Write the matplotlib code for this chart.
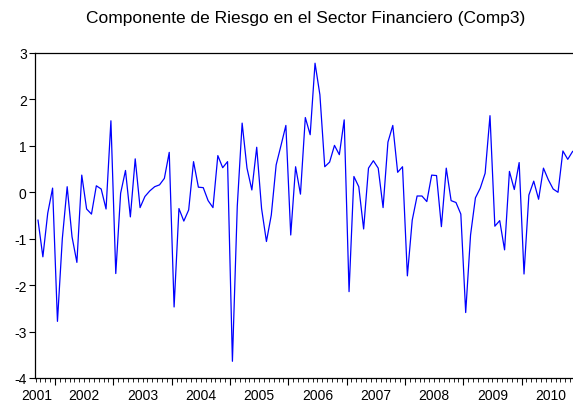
import numpy as np
import matplotlib.pyplot as plt
from matplotlib.transforms import blended_transform_factory

plt.rcParams['font.family'] = ['Liberation Sans', 'DejaVu Sans']
plt.rcParams['axes.unicode_minus'] = False

# monthly series, first observation 2001M09
start_year, start_month = 2001, 9
comp3 = [
    -0.60, -1.39, -0.45, 0.09,                                                      # 2001
    -2.78, -1.00, 0.12, -0.96, -1.51, 0.37, -0.36, -0.47, 0.14, 0.07, -0.36, 1.54,  # 2002
    -1.75, -0.02, 0.47, -0.53, 0.72, -0.33, -0.09, 0.03, 0.12, 0.16, 0.30, 0.86,    # 2003
    -2.47, -0.35, -0.62, -0.38, 0.66, 0.11, 0.10, -0.18, -0.33, 0.79, 0.53, 0.66,   # 2004
    -3.64, -0.30, 1.49, 0.52, 0.05, 0.97, -0.35, -1.06, -0.49, 0.59, 1.01, 1.44,    # 2005
    -0.92, 0.55, -0.04, 1.61, 1.24, 2.78, 2.10, 0.55, 0.65, 1.01, 0.81, 1.56,       # 2006
    -2.14, 0.34, 0.12, -0.79, 0.52, 0.68, 0.52, -0.33, 1.08, 1.44, 0.43, 0.55,      # 2007
    -1.80, -0.60, -0.08, -0.08, -0.20, 0.37, 0.36, -0.74, 0.52, -0.18, -0.22, -0.47, # 2008
    -2.59, -0.92, -0.12, 0.09, 0.41, 1.65, -0.73, -0.61, -1.24, 0.45, 0.06, 0.64,   # 2009
    -1.76, -0.06, 0.24, -0.15, 0.52, 0.27, 0.07, 0.00, 0.89, 0.71, 0.88,            # 2010
]
years = [2001, 2002, 2003, 2004, 2005, 2006, 2007, 2008, 2009, 2010]
yticks = [-4, -3, -2, -1, 0, 1, 2, 3]

n = len(comp3)
t = np.arange(n)
month = (start_month - 1 + t) % 12
jan_idx = t[month == 0]

fig = plt.figure(figsize=(5.73, 4.02), dpi=100)
ax = fig.add_axes([35 / 573, 23 / 402, 541 / 573, 325 / 402])
ax.plot(t, comp3, color='#0000ff', lw=0.9)

x0 = -0.62
ax.set_xlim(x0, x0 + 541 / 4.86)
ax.set_ylim(-4, 3)

ax.set_yticks(yticks)
ax.set_yticklabels([str(v) for v in yticks])
ax.tick_params(axis='y', direction='out', length=4, width=0.8, pad=2,
               labelsize=10, colors='black')

# month boundaries as minor ticks, year boundaries as major ticks
ax.set_xticks(jan_idx - 0.5)
ax.set_xticklabels([])
ax.set_xticks(np.arange(n + 1) - 0.5, minor=True)
ax.tick_params(axis='x', which='major', direction='out', length=5, width=0.8)
ax.tick_params(axis='x', which='minor', direction='out', length=3, width=0.6)

trans = blended_transform_factory(ax.transData, ax.transAxes)
for k, yr in enumerate(years):
    first = (yr - start_year) * 12 - (start_month - 1)
    mid = first - 0.5 + 6
    if mid < x0:
        mid = x0 + 0.3
    ax.text(mid, -0.03, str(yr), transform=trans, ha='center', va='top',
            fontsize=10)

for s in ax.spines.values():
    s.set_linewidth(0.9)

fig.text(306 / 573, 1 - 19 / 402, 'Componente de Riesgo en el Sector Financiero (Comp3)',
         ha='center', va='center', fontsize=12.5)

fig.savefig('out.png', dpi=100)
